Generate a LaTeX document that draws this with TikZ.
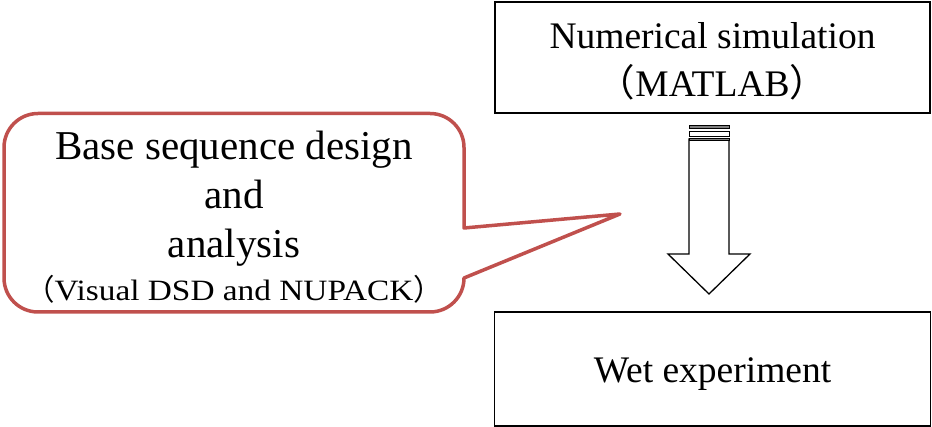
\documentclass[tikz,border=0pt]{standalone}
\usepackage{fontspec}
\setmainfont{Liberation Serif}
\newfontfamily\widefont{Liberation Serif}[FakeStretch=1.13]
\newfontfamily\cjkfont{Noto Sans CJK JP}
\usetikzlibrary{positioning}
\definecolor{calloutred}{HTML}{C0504D}
\newcommand{\fwlp}{{\cjkfont （}}
\newcommand{\fwrp}{{\cjkfont ）}}
\begin{document}
\begin{tikzpicture}[x=1pt, y=1pt,
	stepbox/.style={rectangle,draw,line width=1.3pt,minimum width=435pt,minimum height=111pt,inner sep=0pt,align=center,font=\fontsize{37.5}{48}\selectfont},
	bubble/.style={draw=calloutred,line width=3.5pt,line join=round}]
		\useasboundingbox (0,0) rectangle (932,-427);

		\node[stepbox] (sim) at (712.5,-57.5) {\rule{0pt}{33.5pt}Numerical simulation\\\fwlp MATLAB\fwrp};
		\node[stepbox,minimum width=436pt,minimum height=114pt,text height=28pt,text depth=0pt,below=197.7pt of sim] (wet) {Wet experiment};

		% block arrow with stripes
		\draw [line width=1.3pt,fill=white] (689,-139) -- (689,-254) -- (668,-254) -- (709,-294) -- (750,-254) -- (729,-254) -- (729,-139) -- cycle;
		\filldraw [fill=gray,line width=1pt] (689,-126) rectangle (729,-129);
		\draw [line width=1pt] (689,-131.5) rectangle (729,-136.5);
		\filldraw [fill=gray,line width=1pt] (689,-139) rectangle (729,-141);

		% callout
		\coordinate (tip) at (620,-214);
		\draw [bubble] (38,-113.5) -- (430,-113.5) arc[start angle=90,end angle=0,radius=34] -- (464,-228) -- (tip) -- (464,-278) arc[start angle=0,end angle=-90,radius=34] -- (38,-312) arc[start angle=270,end angle=180,radius=34] -- (4,-147.5) arc[start angle=180,end angle=90,radius=34] -- cycle;
		\node[font=\fontsize{41}{49}\selectfont,align=center,inner sep=0pt,anchor=base] (design) at (234,-301) {Base sequence design\\and\\analysis\\[-6pt]{\fontsize{29.5}{36}\widefont\fwlp Visual DSD and NUPACK\fwrp}};
\end{tikzpicture}
\end{document}
